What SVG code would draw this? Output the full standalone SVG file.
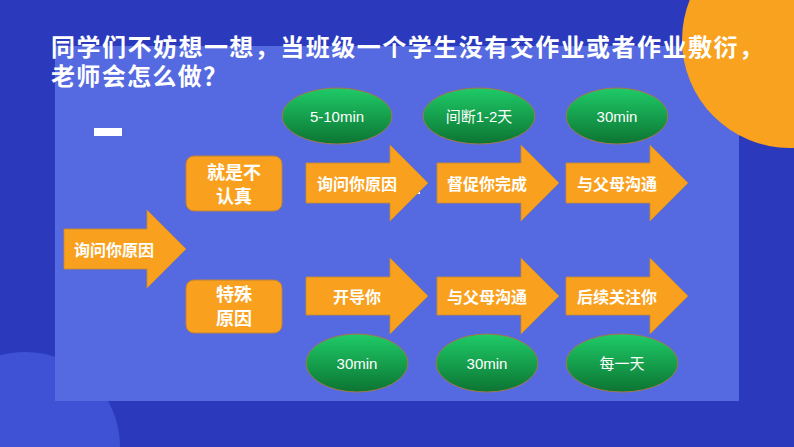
<svg xmlns="http://www.w3.org/2000/svg" width="794" height="447" viewBox="0 0 794 447">
  <defs>
    <linearGradient id="gGreen" x1="0" y1="0" x2="0" y2="1">
      <stop offset="0" stop-color="#1fcb68"/>
      <stop offset="1" stop-color="#0c7432"/>
    </linearGradient>
    <style>
      .title{font-family:"Noto Sans CJK SC","Liberation Sans",sans-serif;font-weight:bold;font-size:24px;fill:#ffffff}
      .arr{fill:#f9a11e;stroke:#c98a2a;stroke-width:0.8}
      .box{fill:#f9a11e;stroke:#c0803a;stroke-width:1}
      .lbl{font-family:"Noto Sans CJK SC",sans-serif;font-weight:bold;font-size:16px;fill:#ffffff;dominant-baseline:central}
      .blbl{font-family:"Noto Sans CJK SC",sans-serif;font-weight:bold;font-size:18px;fill:#ffffff;text-anchor:middle}
      .ov{fill:url(#gGreen);stroke:#a0784a;stroke-width:1}
      .otxt{font-family:"Liberation Sans","Noto Sans CJK SC",sans-serif;font-size:15px;fill:#ffffff;text-anchor:middle;dominant-baseline:central}
    </style>
  </defs>

  <!-- background -->
  <rect x="0" y="0" width="794" height="447" fill="#2b3abd"/>
  <circle cx="25" cy="447" r="95" fill="#3f52d6"/>
  <rect x="55" y="46" width="684" height="355" fill="#556ae0"/>
  <circle cx="790" cy="40" r="108" fill="#f9a21f"/>
  <rect x="94" y="128" width="28" height="8" fill="#ffffff"/>
  <rect x="414" y="192" width="6" height="2" fill="#ffffff"/>

  <!-- title -->
  <text class="title" x="51" y="56" textLength="712" lengthAdjust="spacing">同学们不妨想一想，当班级一个学生没有交作业或者作业敷衍，</text>
  <text class="title" x="51" y="85" textLength="176" lengthAdjust="spacing">老师会怎么做？</text>

  <g id="connectors"></g>

  <!-- main arrow -->
  <g id="start">
    <polygon class="arr" points="64,229 147,229 147,210 186,249 147,288 147,269 64,269"/>
    <text class="lbl" x="74" y="249">询问你原因</text>
  </g>

  <!-- branch boxes -->
  <g id="branch1">
    <rect class="box" x="186" y="156" width="96" height="55" rx="8"/>
    <text class="blbl" x="234" y="179">就是不</text>
    <text class="blbl" x="234" y="203">认真</text>
  </g>
  <g id="branch2">
    <rect class="box" x="186" y="280" width="96" height="53" rx="8"/>
    <text class="blbl" x="234" y="301">特殊</text>
    <text class="blbl" x="234" y="325">原因</text>
  </g>

  <!-- top row arrows -->
  <g id="t1">
    <polygon class="arr" points="306,163 390,163 390,145 428,183 390,221 390,203 306,203"/>
    <text class="lbl" x="317" y="183">询问你原因</text>
  </g>
  <g id="t2">
    <polygon class="arr" points="437,163 521,163 521,145 559,183 521,221 521,203 437,203"/>
    <text class="lbl" x="447" y="183">督促你完成</text>
  </g>
  <g id="t3">
    <polygon class="arr" points="566,163 650,163 650,145 688,183 650,221 650,203 566,203"/>
    <text class="lbl" x="577" y="183">与父母沟通</text>
  </g>

  <!-- bottom row arrows -->
  <g id="b1">
    <polygon class="arr" points="306,277 390,277 390,258 428,296 390,334 390,315 306,315"/>
    <text class="lbl" x="333" y="296">开导你</text>
  </g>
  <g id="b2">
    <polygon class="arr" points="437,277 521,277 521,258 559,296 521,334 521,315 437,315"/>
    <text class="lbl" x="447" y="296">与父母沟通</text>
  </g>
  <g id="b3">
    <polygon class="arr" points="566,277 650,277 650,258 688,296 650,334 650,315 566,315"/>
    <text class="lbl" x="577" y="296">后续关注你</text>
  </g>

  <!-- top ovals -->
  <g id="o1">
    <ellipse class="ov" cx="337" cy="116" rx="55" ry="28"/>
    <text class="otxt" x="337" y="116">5-10min</text>
  </g>
  <g id="o2">
    <ellipse class="ov" cx="479" cy="116" rx="56" ry="28"/>
    <text class="otxt" x="479" y="116">间断1-2天</text>
  </g>
  <g id="o3">
    <ellipse class="ov" cx="617" cy="116" rx="51" ry="28"/>
    <text class="otxt" x="617" y="116">30min</text>
  </g>

  <!-- bottom ovals -->
  <g id="o4">
    <ellipse class="ov" cx="357" cy="363" rx="51" ry="29"/>
    <text class="otxt" x="357" y="363">30min</text>
  </g>
  <g id="o5">
    <ellipse class="ov" cx="487" cy="363" rx="51" ry="29"/>
    <text class="otxt" x="487" y="363">30min</text>
  </g>
  <g id="o6">
    <ellipse class="ov" cx="622" cy="363" rx="56" ry="29"/>
    <text class="otxt" x="622" y="363">每一天</text>
  </g>
</svg>
